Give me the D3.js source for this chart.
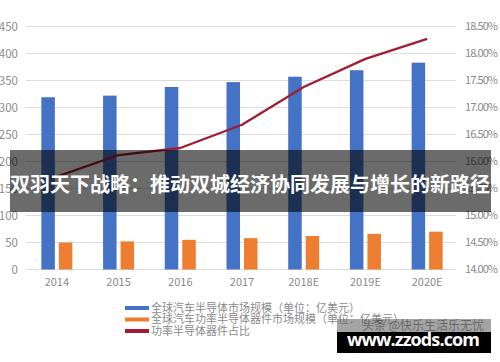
<!DOCTYPE html>
<html>
<head>
<meta charset="utf-8">
<script src="https://cdn.jsdelivr.net/npm/d3@7"></script>
<style>
  body { margin: 0; background: #fff; }
  text { font-family: "Noto Sans CJK SC", "Noto Sans", sans-serif; }
</style>
</head>
<body>
<div id="chart"></div>
<script>
/* data */
var years = ["2014", "2015", "2016", "2017", "2018E", "2019E", "2020E"];
var autoSemi = [319, 322, 338, 347, 357, 369, 383];
var powerSemi = [50, 52, 55, 58, 62, 66, 70];
var powerShare = [15.72, 16.12, 16.25, 16.68, 17.38, 17.90, 18.27];
var leftTicks = [0, 50, 100, 150, 200, 250, 300, 350, 400, 450];
var rightTicks = [14, 14.5, 15, 15.5, 16, 16.5, 17, 17.5, 18, 18.5];
var legendNames = ["全球汽车半导体市场规模（单位：亿美元）",
                   "全球汽车功率半导体器件市场规模（单位：亿美元）",
                   "功率半导体器件占比"];
var bannerText = "双羽天下战略：推动双城经济协同发展与增长的新路径";

var width = 500, height = 362;
var svg = d3.select("#chart").append("svg")
            .attr("width", width)
            .attr("height", height);

var x = d3.scaleBand().domain(years).range([26, 458]);
var yL = d3.scaleLinear().domain([0, 450]).range([269.5, 26.5]);
var yR = d3.scaleLinear().domain([14, 18.5]).range([269.5, 26.5]);

// gridlines
svg.append("g")
   .selectAll("line")
   .data(leftTicks)
   .enter()
   .append("line")
   .attr("x1", 26).attr("x2", 456)
   .attr("y1", function(d) { return yL(d); })
   .attr("y2", function(d) { return yL(d); })
   .style("stroke", "#dcdcdc")
   .style("stroke-width", 1);

// left axis labels
svg.append("g")
   .selectAll("text")
   .data(leftTicks)
   .enter()
   .append("text")
   .attr("x", 18)
   .attr("y", function(d) { return yL(d); })
   .attr("dy", "0.35em")
   .attr("text-anchor", "end")
   .style("font-size", "11.5px")
   .style("fill", "#8a8a8a")
   .text(function(d) { return d; });

// right axis labels
svg.append("g")
   .selectAll("text")
   .data(rightTicks)
   .enter()
   .append("text")
   .attr("x", 465)
   .attr("y", function(d) { return yR(d); })
   .attr("dy", "0.35em")
   .attr("textLength", 33)
   .style("font-size", "11px")
   .style("fill", "#8a8a8a")
   .text(function(d) { return d.toFixed(2) + "%"; });

// x labels
svg.append("g")
   .selectAll("text")
   .data(years)
   .enter()
   .append("text")
   .attr("x", function(d) { return x(d) + x.bandwidth() / 2; })
   .attr("y", 282)
   .attr("dy", "0.35em")
   .attr("text-anchor", "middle")
   .style("font-size", "11px")
   .style("fill", "#8a8a8a")
   .text(function(d) { return d; });

var barW = 13.5;

// blue bars
svg.append("g")
   .selectAll("rect")
   .data(autoSemi)
   .enter()
   .append("rect")
   .attr("x", function(d, i) { return x(years[i]) + x.bandwidth() / 2 - barW - 2; })
   .attr("y", function(d) { return yL(d); })
   .attr("width", barW)
   .attr("height", function(d) { return yL(0) - yL(d); })
   .style("fill", "#4472c4");

// orange bars
svg.append("g")
   .selectAll("rect")
   .data(powerSemi)
   .enter()
   .append("rect")
   .attr("x", function(d, i) { return x(years[i]) + x.bandwidth() / 2 + 2; })
   .attr("y", function(d) { return yL(d); })
   .attr("width", barW)
   .attr("height", function(d) { return yL(0) - yL(d); })
   .style("fill", "#ed7d31");

// share line
var line = d3.line()
   .x(function(d, i) { return x(years[i]) + x.bandwidth() / 2; })
   .y(function(d) { return yR(d); });

svg.append("path")
   .datum(powerShare)
   .attr("d", line)
   .style("fill", "none")
   .style("stroke", "#a21d33")
   .style("stroke-width", 2.3)
   .style("stroke-linejoin", "round");

// legend
var legendColors = ["#4472c4", "#ed7d31", "#a21d33"];
var lg = svg.append("g")
   .selectAll("g")
   .data(legendNames)
   .enter()
   .append("g")
   .attr("transform", function(d, i) { return "translate(125," + (308 + i * 11.5) + ")"; });

lg.append("rect")
  .attr("x", 0).attr("y", -2)
  .attr("width", 24).attr("height", 4)
  .style("fill", function(d, i) { return legendColors[i]; });

lg.append("text")
  .attr("x", 26)
  .attr("dy", "0.35em")
  .style("font-size", "11px")
  .style("fill", "#8a8a8a")
  .text(function(d) { return d; });

// overlay banner
svg.append("rect")
   .attr("x", 10).attr("y", 150)
   .attr("width", 481).attr("height", 62)
   .style("fill", "rgba(0,0,0,0.58)");

svg.append("text")
   .attr("x", 250).attr("y", 185)
   .attr("dy", "0.35em")
   .attr("text-anchor", "middle")
   .attr("textLength", 480)
   .style("font-size", "20px")
   .style("font-weight", "bold")
   .style("fill", "#fff")
   .text(bannerText);

// watermark
svg.append("rect")
   .attr("x", 337).attr("y", 319)
   .attr("width", 154).attr("height", 13)
   .style("fill", "rgba(90,90,90,0.55)");

svg.append("text")
   .attr("x", 362).attr("y", 325.5)
   .attr("dy", "0.35em")
   .style("font-size", "12px")
   .style("fill", "rgba(60,60,60,0.6)")
   .text("头条 @快乐生活乐无忧");

svg.append("rect")
   .attr("x", 337).attr("y", 332)
   .attr("width", 154).attr("height", 21)
   .style("fill", "#000");

svg.append("text")
   .attr("x", 347).attr("y", 340)
   .attr("dy", "0.35em")
   .attr("textLength", 133)
   .style("font-family", "'Open Sans', sans-serif")
   .style("font-size", "18px")
   .style("font-weight", "bold")
   .style("fill", "#fff")
   .text("www.zzods.com");
</script>
</body>
</html>
